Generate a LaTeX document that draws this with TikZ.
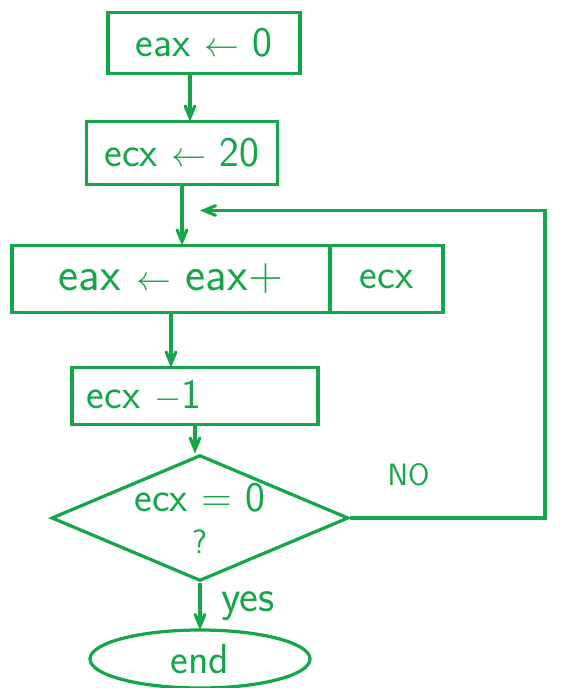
\documentclass[tikz,border=0pt]{standalone}
\usepackage{amsmath}
\usepackage{tikz}
\usetikzlibrary{arrows,shapes.geometric,positioning}
\definecolor{pen}{RGB}{22,166,74}
\begin{document}
\begin{tikzpicture}[->,>=angle 45,line width=2.3pt,color=pen,
                    x=0.025cm,y=-0.025cm]
\tikzstyle{every node}=[font=\sffamily\fontsize{30}{34}\selectfont,inner sep=0pt]
  	\tikzstyle{box}=[draw,rectangle,outer sep=0pt]
\useasboundingbox (0,0) rectangle (560,688);
\node [box,minimum width=4.8cm,minimum height=1.525cm] (init) at (204,43) {eax $\leftarrow$ 0};
\node [box,minimum width=4.775cm,minimum height=1.575cm] (count) at (182,153) {ecx $\leftarrow$ 20};
\node [box,minimum width=7.95cm,minimum height=1.675cm,font=\sffamily\fontsize{34}{38}\selectfont] (sum) at (171,279) {eax $\leftarrow$ eax+};
\node [box,minimum width=2.825cm,minimum height=1.675cm] [right=0pt of sum] (sumecx) {ecx};
\node [box,minimum width=6.15cm,minimum height=1.425cm,text width=5.4cm,align=left] (dec) at (195,396) {ecx $-$1};
\node [draw,diamond,aspect=2.36,minimum width=7.25cm,minimum height=3.075cm,align=center] (test) at (200,518)
  {ecx = 0\\[-4pt]{\fontsize{24}{24}\selectfont ?}};
\node [draw,ellipse,minimum width=5.5cm,minimum height=1.45cm,outer sep=0pt] (stop) at (200,659) {end};
\coordinate [below=0.65cm of count.south] (join);
\coordinate (turn) at (545,518);

\draw ([xshift=-0.35cm]init.south) -- ([xshift=-0.35cm]init.south |- count.north);
\draw (count.south) -- (count.south |- sum.north);
\draw (sum.south) -- (sum.south |- dec.north);
\draw (dec.south) -- (dec.south |- test.north);
\draw (test.south) -- node[right=0.5cm,font=\sffamily\fontsize{32}{34}\selectfont] {yes} (stop.north);
\draw (test.east) -- node[above=0.75cm,pos=0.3,font=\sffamily\fontsize{22}{24}\selectfont] {NO} (turn)
  |- ([xshift=0.45cm]join);
	\end{tikzpicture}
\end{document}
